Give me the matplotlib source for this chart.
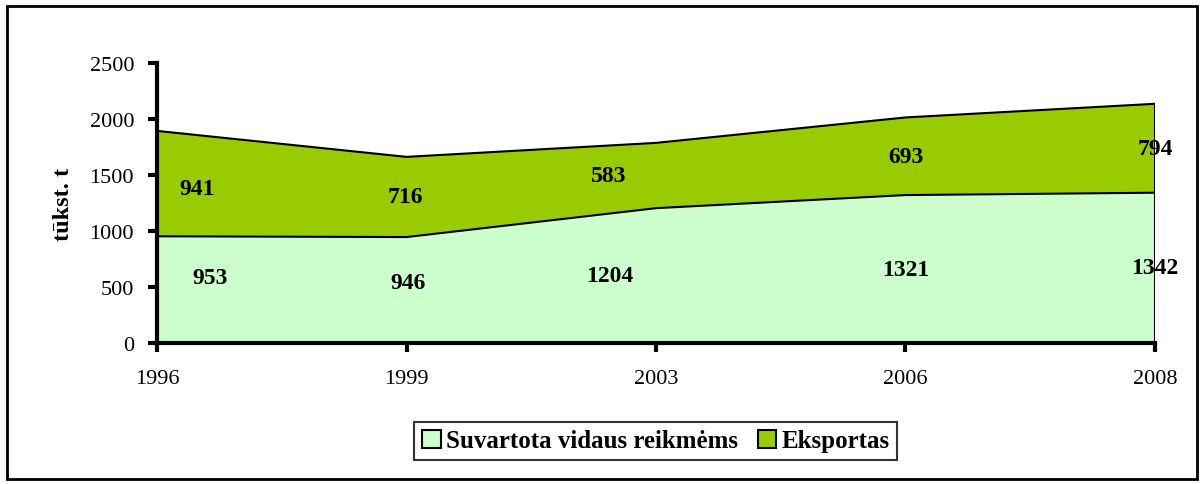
import matplotlib.pyplot as plt
from matplotlib.patches import Rectangle, Patch

years = ["1996", "1999", "2003", "2006", "2008"]
domestic = [953, 946, 1204, 1321, 1342]
export = [941, 716, 583, 693, 794]
series_names = ["Suvartota vidaus reikmėms", "Eksportas"]

plt.rcParams["font.family"] = ["Liberation Serif", "DejaVu Serif"]

fig = plt.figure(figsize=(12.04, 4.85), dpi=100)
ax = fig.add_axes([0.1304, 0.2907, 0.8289, 0.5773])

x = list(range(len(years)))
total = [d + e for d, e in zip(domestic, export)]

ax.fill_between(x, 0, domestic, facecolor="#CCFFCC", edgecolor="none")
ax.fill_between(x, domestic, total, facecolor="#99CC00", edgecolor="none")
ax.plot(x, domestic, color="black", lw=1.5)
ax.plot(x, total, color="black", lw=1.5)
ax.plot([x[-1], x[-1]], [0, total[-1]], color="black", lw=1.5)

# label nudges in pixels, the way excel scattered them
dom_dx = [53, 2, -46, 0, 0]
dom_dy = [12, 8, 0, 0, 0]
exp_dx = [40, -1, -47, 0, 0]
exp_dy = [-5, 0, 0, 0, 0]
for i in x:
    ax.annotate(str(domestic[i]), (i, domestic[i] / 2), xytext=(dom_dx[i], dom_dy[i]),
                textcoords="offset pixels", ha="center", va="center",
                fontsize=17, fontweight="bold")
    ax.annotate(str(export[i]), (i, domestic[i] + export[i] / 2), xytext=(exp_dx[i], exp_dy[i]),
                textcoords="offset pixels", ha="center", va="center",
                fontsize=17, fontweight="bold")

ax.set_xlim(0, len(years) - 1)
ax.set_ylim(0, 2500)
ax.set_xticks(x)
ax.set_xticklabels(years, fontsize=16)
ax.set_yticks(range(0, 2501, 500))
ax.tick_params(axis="y", labelsize=16, width=3, length=6.5, direction="out", pad=10)
ax.tick_params(axis="x", width=3, length=6.5, direction="out", pad=12)
for s in ["top", "right"]:
    ax.spines[s].set_visible(False)
for s in ["left", "bottom"]:
    ax.spines[s].set_linewidth(3)
ax.set_ylabel("tūkst. t", fontsize=17.5, fontweight="bold", labelpad=11)

handles = [Patch(facecolor="#CCFFCC", edgecolor="black", lw=1.5),
           Patch(facecolor="#99CC00", edgecolor="black", lw=1.5)]
leg = fig.legend(handles, series_names, loc="center", bbox_to_anchor=(0.5445, 0.0887),
                 ncol=2, frameon=True, fancybox=False, handlelength=0.75, handleheight=0.75,
                 handletextpad=0.2, columnspacing=0.8, borderpad=0.3, borderaxespad=0,
                 prop={"size": 18, "weight": "bold"})
leg.get_frame().set_edgecolor("black")
leg.get_frame().set_linewidth(1.5)

fig.patches.append(Rectangle((0.006, 0.01), 0.988, 0.975, transform=fig.transFigure,
                             fill=False, edgecolor="black", lw=2))

fig.savefig("out.png", dpi=100)
